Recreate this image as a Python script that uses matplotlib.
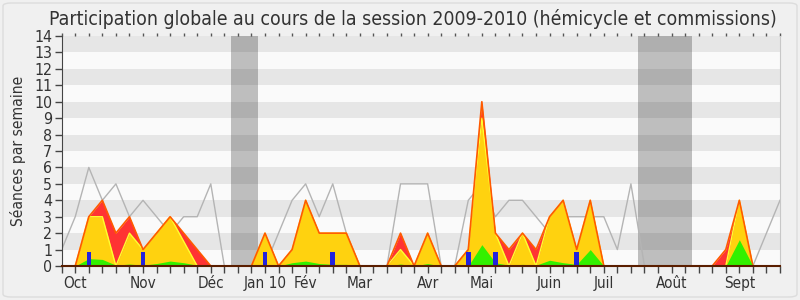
import matplotlib
matplotlib.use('Agg')
import matplotlib.pyplot as plt
import matplotlib.font_manager as fm
from matplotlib.font_manager import FontProperties
from matplotlib.patches import FancyBboxPatch

# ---------------- data ----------------
weeks = list(range(54))
mediane = [1, 3, 6, 4, 5, 3, 4, 3, 2, 3, 3, 5,
           0, 0, 0, 0,
           2, 4, 5, 3, 5, 2,
           0, 0, 0,
           5, 5, 5,
           0, 0,
           4, 5, 3, 4, 4, 3, 2, 3, 3, 3, 3, 1, 5,
           0, 0, 0, 0, 0, 0, 0, 0, 0,
           2, 4]
presence = [0, 0, 3, 4, 2, 3, 1, 2, 3, 2, 1, 0,
            0, 0, 0,
            2, 0, 1, 4, 2, 2, 2,
            0, 0, 0,
            2, 0, 2,
            0, 0,
            1, 10, 2, 1, 2, 1, 3, 4, 1, 4,
            0, 0, 0, 0, 0, 0, 0, 0, 0,
            1, 4,
            0, 0, 0]
participation = [0, 0, 3, 3, 0, 2, 1, 2, 3, 1.5, 0, 0,
                 0, 0, 0,
                 2, 0, 1, 4, 2, 2, 2,
                 0, 0, 0,
                 1, 0, 2,
                 0, 0,
                 1, 9, 2, 0, 2, 0, 3, 4, 1, 4,
                 0, 0, 0, 0, 0, 0, 0, 0, 0,
                 0, 4,
                 0, 0, 0]
interventions = [0, 0, 0.45, 0.4, 0.05, 0.12, 0.05, 0.15, 0.3, 0.2, 0.05, 0,
                 0, 0, 0,
                 0.05, 0, 0.2, 0.3, 0.15, 0.1, 0.1,
                 0, 0, 0,
                 0.12, 0, 0.15,
                 0, 0,
                 0, 1.3, 0.2, 0.05, 0.1, 0.05, 0.35, 0.2, 0.1, 1.0,
                 0, 0, 0, 0, 0, 0, 0, 0, 0,
                 0, 1.6,
                 0, 0, 0]
question_weeks = [2, 6, 15, 20, 30, 32, 38]
question_values = [0.85, 0.85, 0.85, 0.85, 0.85, 0.85, 0.85]
vacation_weeks = [13, 14, 43, 44, 45, 46]
month_ticks = [1, 6, 11, 15, 18, 22, 27, 31, 36, 40, 45, 50]
month_labels = ['Oct', 'Nov', 'Déc', 'Jan 10', 'Fév', 'Mar', 'Avr', 'Mai',
                'Juin', 'Juil', 'Août', 'Sept']
y_ticks = list(range(15))
title = "Participation globale au cours de la session 2009-2010 (hémicycle et commissions)"
ylabel = "Séances par semaine"

# ---------------- font: prefer a condensed sans face ----------------
font_file = None
prefs = ['DejaVuSansCondensed.ttf', 'LiberationSansNarrow-Regular', 'NotoSans-SemiCondensed.',
         'NotoSans-Condensed.', 'RobotoCondensed-Regular', 'Roboto_Condensed-Regular',
         'OpenSans-CondensedLight', 'OpenSans_Condensed-Regular', 'OpenSans-SemiCondensed']
files = [f.fname for f in fm.fontManager.ttflist]
for p in prefs:
    hits = [fn for fn in files if p in fn]
    if hits:
        font_file = hits[0]
        break
if font_file is None:
    for fn in files:
        low = fn.lower()
        if ('condensed' in low or 'narrow' in low) and 'bold' not in low and 'italic' not in low \
                and 'mono' not in low and 'serif' not in low and 'light' not in low:
            font_file = fn
            break


def fprop(size):
    if font_file:
        return FontProperties(fname=font_file, size=size)
    return FontProperties(family='DejaVu Sans', size=size)


TXT = '#333333'

fig = plt.figure(figsize=(8, 3), dpi=100)
fig.patch.set_facecolor('#f0f0f0')
fig.patches.append(FancyBboxPatch((3 / 800, 3 / 300), 794 / 800, 294 / 300,
                                  boxstyle='round,pad=0,rounding_size=0.01',
                                  transform=fig.transFigure, facecolor='none',
                                  edgecolor='#dcdcdc', lw=1))

L, R, B, T = 61.7, 780.0, 266.0, 36.0
ax = fig.add_axes([L / 800, (300 - B) / 300, (R - L) / 800, (B - T) / 300])
ax.set_xlim(0, 53)
ax.set_ylim(0, 14)
ax.set_facecolor('#fafafa')

# stripes
for k in range(14):
    ax.axhspan(k, k + 1, color='#e6e6e6' if k % 2 == 1 else '#fafafa', lw=0, zorder=0)
# vacations
for w in vacation_weeks:
    ax.axvspan(w - 0.5, w + 0.5, color='black', alpha=0.24, lw=0, zorder=0.5)

ax.plot(weeks, mediane, color='#b4b4b4', lw=1, zorder=0.8)
ax.fill_between(weeks, presence, 0, color='#ff3333', lw=0, zorder=1)
ax.fill_between(weeks, participation, 0, color='#ffd20f', lw=0, zorder=1.1)
ax.plot(weeks, participation, color='#ffff30', lw=1, zorder=1.2)
ax.plot(weeks, presence, color='#ff5a00', lw=1.2, zorder=1.3)
ax.fill_between(weeks, interventions, 0, color='#33f000', lw=0, zorder=1.4)
ax.bar(question_weeks, question_values, width=0.34, color='#2323dd', lw=0, zorder=1.5)

# spines
ax.spines['top'].set_visible(False)
ax.spines['right'].set_color('#c8c8c8')
ax.spines['left'].set_color('#444444')
ax.spines['bottom'].set_color('#5a1e00')
ax.spines['bottom'].set_linewidth(1.5)

ax.set_yticks(y_ticks)
ax.set_yticklabels([str(v) for v in y_ticks])
ax.set_xticks(weeks)
ax.set_xticklabels([month_labels[month_ticks.index(w)] if w in month_ticks else '' for w in weeks])
ax.tick_params(axis='both', direction='out', length=5, width=1, color='#444444', labelcolor=TXT)
ax.tick_params(axis='y', pad=2)
ax.tick_params(axis='x', pad=2)

sec = ax.secondary_xaxis('top')
sec.set_xticks(weeks)
sec.tick_params(length=2, width=1, color='#555555', labeltop=False)
sec.spines['top'].set_visible(False)

t_title = fig.text(413 / 800, 1 - 19 / 300, title, ha='center', va='center', color=TXT,
                   fontproperties=fprop(14))
t_ylab = fig.text(18 / 800, 1 - 151 / 300, ylabel, ha='center', va='center', rotation=90,
                  color=TXT, fontproperties=fprop(11))
for lbl in ax.get_xticklabels():
    lbl.set_fontproperties(fprop(11))
for lbl in ax.get_yticklabels():
    lbl.set_fontproperties(fprop(11))

# fit text sizes to the reference's measured extents
fig.canvas.draw()
r = fig.canvas.get_renderer()
w = t_title.get_window_extent(r).width
t_title.set_fontproperties(fprop(14 * 731 / w))
h = t_ylab.get_window_extent(r).height
t_ylab.set_fontproperties(fprop(11 * 150 / h))
oct_lbl = [l for l in ax.get_xticklabels() if l.get_text() == 'Oct'][0]
wx = oct_lbl.get_window_extent(r).width
for lbl in ax.get_xticklabels():
    lbl.set_fontproperties(fprop(11 * 23.5 / wx))
y14 = ax.get_yticklabels()[-1]
wy = y14.get_window_extent(r).width
for lbl in ax.get_yticklabels():
    lbl.set_fontproperties(fprop(11 * 18 / wy))

fig.savefig('out.png', dpi=100, facecolor=fig.get_facecolor())
